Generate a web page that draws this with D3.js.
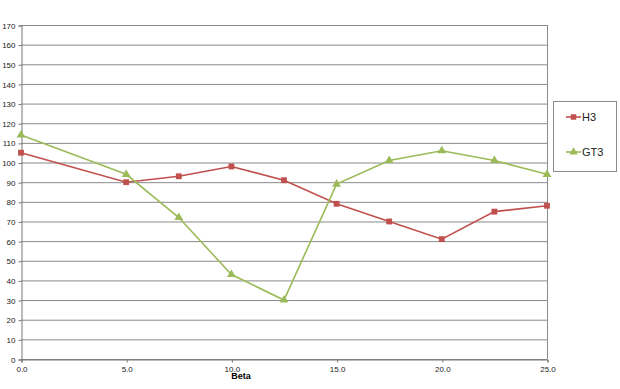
<!DOCTYPE html>
<html>
<head>
<meta charset="utf-8">
<script src="https://cdn.jsdelivr.net/npm/d3@7"></script>
<style>
  body { margin: 0; background: #fff; }
  text { font-family: "Liberation Sans", Arial, sans-serif; }
</style>
</head>
<body>
<svg id="chart" width="620" height="389"></svg>
<script>
// data
var betas = [0, 5, 7.5, 10, 12.5, 15, 17.5, 20, 22.5, 25];
var h3 = [105, 90, 93, 98, 91, 79, 70, 61, 75, 78];
var gt3 = [114, 94, 72, 43, 30, 89, 101, 106, 101, 94];
var xTicks = [0, 5, 10, 15, 20, 25];
var yTicks = d3.range(0, 171, 10);

var svg = d3.select("#chart");
var x = d3.scaleLinear().domain([0, 25]).range([21, 547]);
var y = d3.scaleLinear().domain([0, 170]).range([359, 25]);

// gridlines
svg.append("g").selectAll("line").data(yTicks).join("line")
  .attr("x1", x(0)).attr("x2", x(25))
  .attr("y1", function(d) { return y(d) + 0.5; })
  .attr("y2", function(d) { return y(d) + 0.5; })
  .attr("stroke", "#8a8a8a").attr("stroke-width", 1);

// right border of plot
svg.append("line")
  .attr("x1", x(25) + 0.5).attr("x2", x(25) + 0.5)
  .attr("y1", y(170)).attr("y2", y(0))
  .attr("stroke", "#8a8a8a");

// y axis
var yAxis = svg.append("g")
  .attr("transform", "translate(" + (x(0) + 0.5) + ",0.5)")
  .call(d3.axisLeft(y).tickValues(yTicks).tickSize(3).tickPadding(3));
yAxis.selectAll("text").style("font-size", "8px").attr("fill", "#222");
yAxis.selectAll("line, path").attr("stroke", "#777");

// x axis
var xAxis = svg.append("g")
  .attr("transform", "translate(0.5," + (y(0) + 0.5) + ")")
  .call(d3.axisBottom(x).tickValues(xTicks).tickFormat(d3.format(".1f")).tickSize(3).tickPadding(4));
xAxis.selectAll("text").style("font-size", "8px").attr("fill", "#222");
xAxis.selectAll("line, path").attr("stroke", "#777");

svg.append("text")
  .attr("x", 241).attr("y", 379)
  .attr("text-anchor", "middle")
  .style("font-size", "9px").style("font-weight", "bold")
  .text("Beta");

var series = [
  { name: "H3", values: h3, color: "#c0504d", shape: d3.symbolSquare },
  { name: "GT3", values: gt3, color: "#9bbb59", shape: d3.symbolTriangle }
];

var line = d3.line()
  .x(function(d, i) { return x(betas[i]); })
  .y(function(d) { return y(d); });

series.forEach(function(s) {
  svg.append("path")
    .attr("d", line(s.values))
    .attr("fill", "none")
    .attr("stroke", s.color)
    .attr("stroke-width", 1.6);

  svg.append("g").selectAll("path").data(s.values).join("path")
    .attr("transform", function(d, i) { return "translate(" + x(betas[i]) + "," + y(d) + ")"; })
    .attr("d", d3.symbol().type(s.shape).size(34))
    .attr("fill", s.color);
});

// legend
var legend = svg.append("g");
legend.append("rect")
  .attr("x", 553.5).attr("y", 101.5)
  .attr("width", 63).attr("height", 70)
  .attr("fill", "#fff").attr("stroke", "#8a8a8a");

series.forEach(function(s, i) {
  var ly = 117 + i * 35;
  legend.append("line")
    .attr("x1", 566).attr("x2", 581)
    .attr("y1", ly).attr("y2", ly)
    .attr("stroke", s.color).attr("stroke-width", 1.6);
  legend.append("path")
    .attr("transform", "translate(573.5," + ly + ")")
    .attr("d", d3.symbol().type(s.shape).size(30))
    .attr("fill", s.color);
  legend.append("text")
    .attr("x", 582).attr("y", ly + 4)
    .style("font-size", "11px").attr("fill", "#222")
    .text(s.name);
});
</script>
</body>
</html>
